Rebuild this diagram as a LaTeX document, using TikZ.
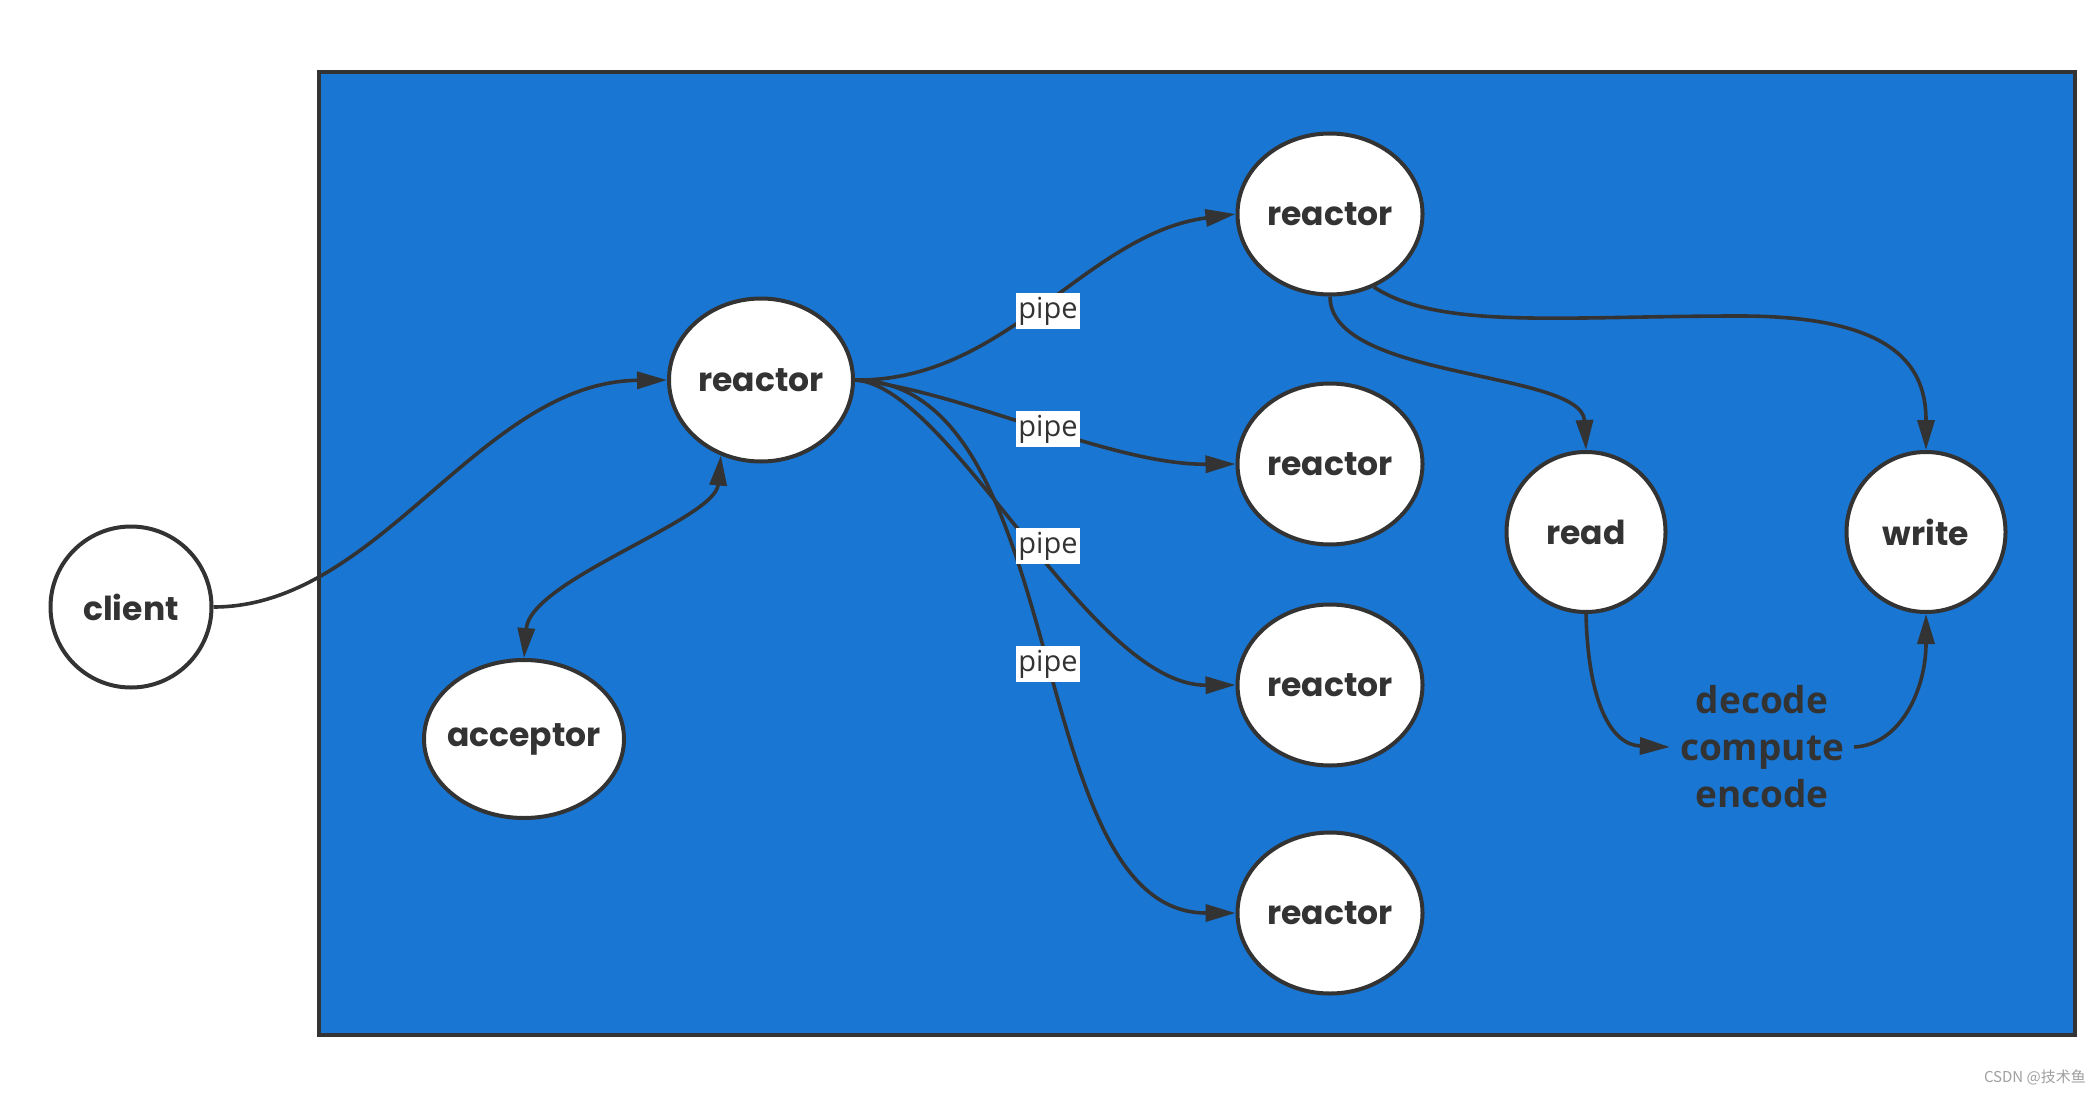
\documentclass[tikz,border=0pt]{standalone}
\usepackage{fontspec}
\setmainfont{Open Sans}
\newfontfamily\nodefont{Poppins}
\newfontfamily\cjkfont{Noto Sans CJK SC}
\usetikzlibrary{arrows.meta,shapes.geometric}
\definecolor{boxblue}{HTML}{1976D2}
\definecolor{ink}{HTML}{333333}
\definecolor{mark}{HTML}{A0A0A0}
\begin{document}
\begin{tikzpicture}[x=1pt,y=-1pt,
  bubble/.style={ellipse, draw=ink, line width=4pt, fill=white, inner sep=0pt},
  bubbletext/.style={font=\nodefont\bfseries\fontsize{33}{38}\selectfont, text=ink},
  link/.style={draw=ink, line width=3.6pt, -{Triangle[length=30pt,width=17pt]}},
  twolink/.style={draw=ink, line width=3.6pt, {Triangle[length=30pt,width=17pt]}-{Triangle[length=30pt,width=17pt]}},
  pipelabel/.style={fill=white, text=ink, font=\fontsize{29}{32}\selectfont, inner xsep=2pt, inner ysep=4pt},
  steptext/.style={font=\bfseries\fontsize{37}{47}\selectfont, text=ink, align=center, inner xsep=10pt, inner ysep=2pt}
]
\fill[white] (0,0) rectangle (2100,1094);
\useasboundingbox (0,0) rectangle (2100,1094);
\node[draw=ink, line width=4pt, fill=boxblue, minimum width=1756pt, minimum height=963pt, inner sep=0pt] (frame) at (1197,553.5) {};

\node[bubble, minimum width=161pt, minimum height=161pt, label={[bubbletext]center:client}] (client) at (131,607) {};
\node[bubble, minimum width=184pt, minimum height=163pt, label={[bubbletext]center:reactor}] (main) at (761,380) {};
\node[bubble, minimum width=200pt, minimum height=158pt, label={[bubbletext]center:acceptor}] (acc) at (524,739) {};
\node[bubble, minimum width=185pt, minimum height=161pt, label={[bubbletext]center:reactor}] (r1) at (1330,214) {};
\node[bubble, minimum width=185pt, minimum height=161pt, label={[bubbletext]center:reactor}] (r2) at (1330,464) {};
\node[bubble, minimum width=185pt, minimum height=161pt, label={[bubbletext]center:reactor}] (r3) at (1330,685) {};
\node[bubble, minimum width=185pt, minimum height=161pt, label={[bubbletext]center:reactor}] (r4) at (1330,913) {};
\node[bubble, minimum width=159pt, minimum height=160pt, label={[bubbletext]center:read}] (rd) at (1586,532) {};
\node[bubble, minimum width=159pt, minimum height=160pt, label={[bubbletext]center:write}] (wr) at (1926,532) {};
\node[steptext] (work) at (1762,747) {decode\\compute\\encode};

\draw[link] (client.east) .. controls (380,607) and (480,382) .. (main.west);
\draw[twolink] (acc.north) .. controls (530,580) and (715,520) .. (main.242);

\draw[link] (main.east) .. controls (1007,382) and (1085,234) .. (r1.west);
\draw[link] (main.east) .. controls (960,390) and (1110,465) .. (r2.west);
\draw[link] (main.east) .. controls (950,385) and (1090,686) .. (r3.west);
\draw[link] (main.east) .. controls (1075,382) and (1020,913) .. (r4.west);

\node[pipelabel] (p1) at (1048,311) {pipe};
\node[pipelabel] (p2) at (1048,429) {pipe};
\node[pipelabel] (p3) at (1048,546) {pipe};
\node[pipelabel] (p4) at (1048,664) {pipe};

\draw[link] (r1.south) .. controls (1330,380) and (1582,370) .. (rd.north);
\draw[link] (r1.-59) .. controls (1440,330) and (1560,316) .. (1740,316) .. controls (1900,316) and (1926,370) .. (wr.north);
\draw[link] (rd.south) .. controls (1588,700) and (1610,745) .. (work.west);
\draw[link] (work.east) .. controls (1900,745) and (1926,690) .. (wr.south);

\node[anchor=east, text=mark, font=\cjkfont\fontsize{15}{18}\selectfont, inner sep=0pt] (wm) at (2086,1077) {CSDN @技术鱼};
\end{tikzpicture}
\end{document}
